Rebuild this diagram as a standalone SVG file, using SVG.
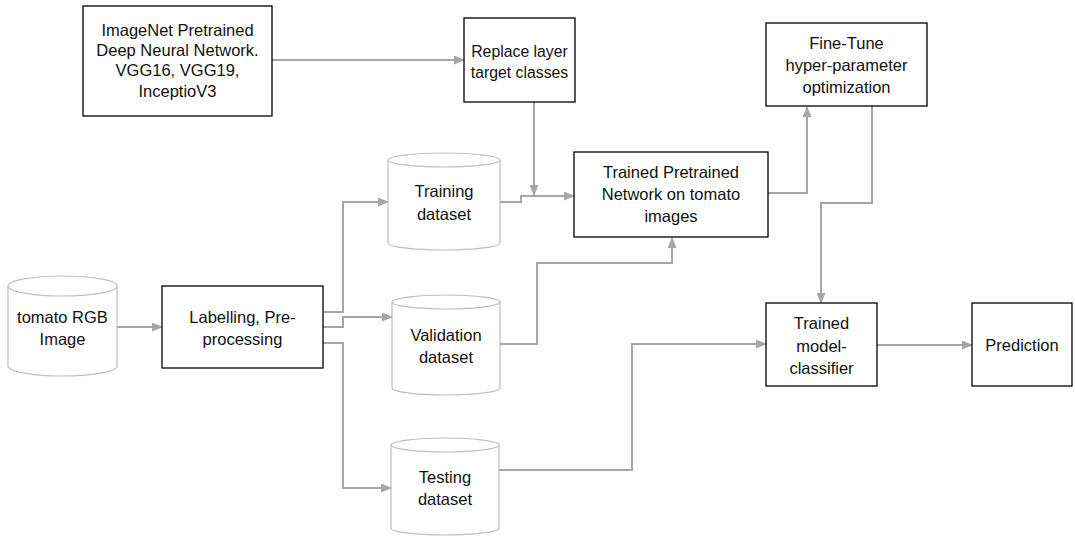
<svg xmlns="http://www.w3.org/2000/svg" width="1075" height="537" viewBox="0 0 1075 537">
  <style>
    .box { fill: #ffffff; stroke: #000000; stroke-width: 1.3; }
    .db { fill: #ffffff; stroke: #bfbfbf; stroke-width: 1.2; }
    .lbl { font-family: "Liberation Sans", Arial, sans-serif; font-size: 16.5px; fill: #111111; text-anchor: middle; }
    .lbl-sm { font-size: 15.8px; }
    .edge { fill: none; stroke: #a6a6a6; stroke-width: 2; marker-end: url(#arrow); }
  </style>
  <defs>
    <marker id="arrow" markerUnits="userSpaceOnUse" markerWidth="11" markerHeight="9" refX="10" refY="4.5" orient="auto">
      <path d="M0,0 L11,4.5 L0,9 z" fill="#a6a6a6"/>
    </marker>
  </defs>
  <rect width="1075" height="537" fill="#ffffff"/>

  <!-- connectors -->
  <g id="connectors">
    <path class="edge" d="M272,60 H464"/>
    <path class="edge" d="M534,102 V195"/>
    <path class="edge" d="M500,202 H521 V196 H574"/>
    <path class="edge" d="M768,193 H807 V107"/>
    <path class="edge" d="M872,106 V203 H821 V303"/>
    <path class="edge" d="M500,344 H537 V263 H672 V238"/>
    <path class="edge" d="M498,470 H632 V344 H766"/>
    <path class="edge" d="M877,345 H972"/>
    <path class="edge" d="M117,327 H162"/>
    <path class="edge" d="M323,312 H343 V202 H388"/>
    <path class="edge" d="M323,327 H343 V317 H392"/>
    <path class="edge" d="M323,343 H343 V488 H391"/>
  </g>

  <!-- process boxes -->
  <g id="imagenet">
    <rect class="box" x="83" y="6" width="189" height="110"/>
    <text class="lbl" x="177.5" y="36">ImageNet Pretrained</text>
    <text class="lbl" x="177.5" y="56">Deep Neural Network.</text>
    <text class="lbl" x="177.5" y="76">VGG16, VGG19,</text>
    <text class="lbl" x="177.5" y="97">InceptioV3</text>
  </g>

  <g id="replace-layer">
    <rect class="box" x="464" y="18" width="111" height="84"/>
    <text class="lbl lbl-sm" x="519.5" y="57">Replace layer</text>
    <text class="lbl lbl-sm" x="519.5" y="78">target classes</text>
  </g>

  <g id="fine-tune">
    <rect class="box" x="766" y="23" width="161" height="83"/>
    <text class="lbl" x="846.5" y="49">Fine-Tune</text>
    <text class="lbl" x="846.5" y="71">hyper-parameter</text>
    <text class="lbl" x="846.5" y="93">optimization</text>
  </g>

  <g id="trained-network">
    <rect class="box" x="574" y="152" width="194" height="85"/>
    <text class="lbl" x="671" y="178">Trained Pretrained</text>
    <text class="lbl" x="671" y="200">Network on tomato</text>
    <text class="lbl" x="671" y="222">images</text>
  </g>

  <g id="labelling">
    <rect class="box" x="162" y="286" width="161" height="82"/>
    <text class="lbl" x="242.5" y="323">Labelling, Pre-</text>
    <text class="lbl" x="242.5" y="345">processing</text>
  </g>

  <g id="classifier">
    <rect class="box" x="766" y="303" width="111" height="83"/>
    <text class="lbl" x="821.5" y="329">Trained</text>
    <text class="lbl" x="821.5" y="352">model-</text>
    <text class="lbl" x="821.5" y="374">classifier</text>
  </g>

  <g id="prediction">
    <rect class="box" x="972" y="303" width="100" height="83"/>
    <text class="lbl" x="1022" y="351">Prediction</text>
  </g>

  <!-- data stores -->
  <g id="tomato-images">
    <path class="db" d="M8,286 V366 A54.5,10 0 0 0 117,366 V286"/>
    <ellipse class="db" cx="62.5" cy="286" rx="54.5" ry="10"/>
    <text class="lbl" x="62.5" y="323">tomato RGB</text>
    <text class="lbl" x="62.5" y="345">Image</text>
  </g>

  <g id="training-set">
    <path class="db" d="M388,160 V243 A56,7 0 0 0 500,243 V160"/>
    <ellipse class="db" cx="444" cy="160" rx="56" ry="7"/>
    <text class="lbl" x="444" y="197">Training</text>
    <text class="lbl" x="444" y="220">dataset</text>
  </g>

  <g id="validation-set">
    <path class="db" d="M392,302 V388 A54,7 0 0 0 500,388 V302"/>
    <ellipse class="db" cx="446" cy="302" rx="54" ry="7"/>
    <text class="lbl" x="446" y="341">Validation</text>
    <text class="lbl" x="446" y="363">dataset</text>
  </g>

  <g id="testing-set">
    <path class="db" d="M391,445 V528 A54,7 0 0 0 499,528 V445"/>
    <ellipse class="db" cx="445" cy="445" rx="54" ry="7"/>
    <text class="lbl" x="445" y="483">Testing</text>
    <text class="lbl" x="445" y="505">dataset</text>
  </g>
</svg>
